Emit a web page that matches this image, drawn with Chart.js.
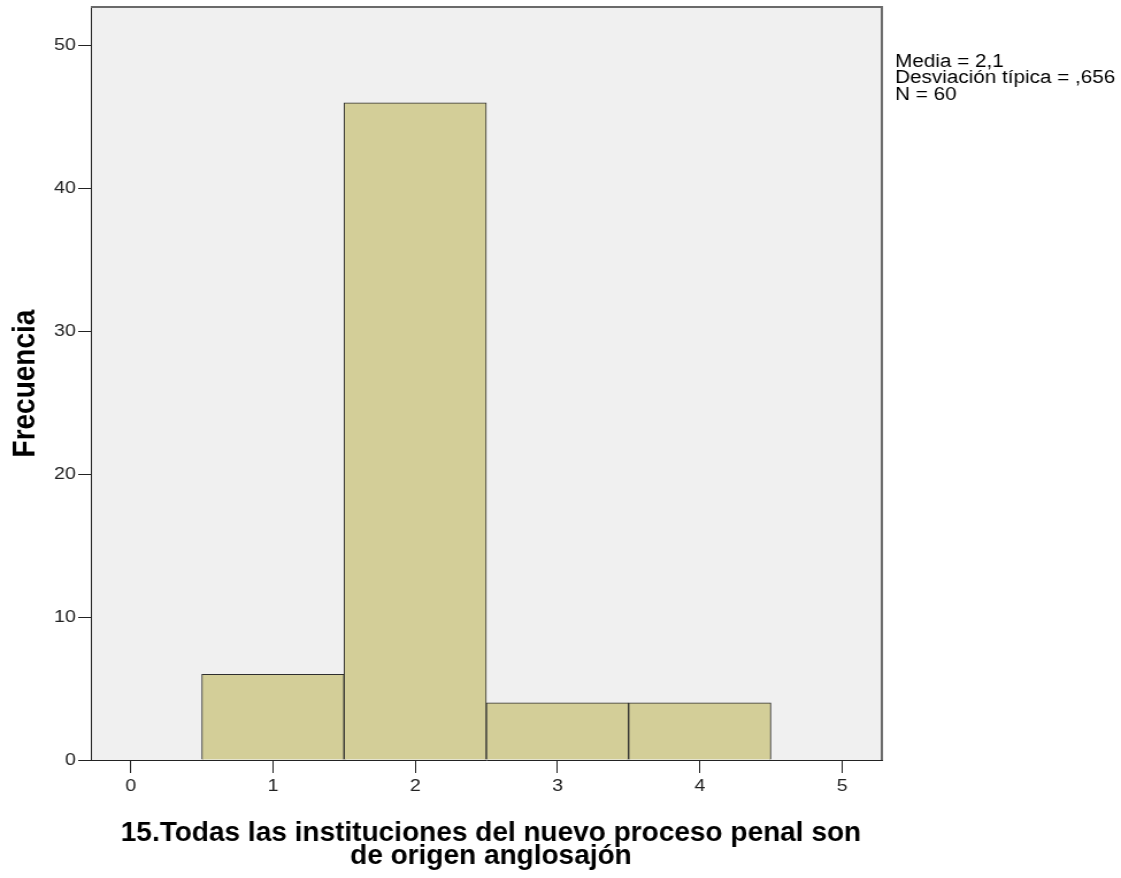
<!DOCTYPE html>
<html>
<head>
<meta charset="utf-8">
<script src="https://cdn.jsdelivr.net/npm/chart.js"></script>
<style>
    html, body { margin: 0; padding: 0; background: #fff; overflow: hidden; }
    /* the original output is stretched horizontally */
    #wrap { width: 975px; height: 878px; transform: scaleX(1.14974); transform-origin: 0 0; }
</style>
</head>
<body>
<div id="wrap"><canvas id="histChart" width="975" height="878"></canvas></div>
<script>
// ========================================
// HISTOGRAM - pregunta 15
// ========================================

const binCenters = [1, 2, 3, 4];
const frequencies = [6, 46, 4, 4];
const xTicks = [0, 1, 2, 3, 4, 5];
const yTicks = [0, 10, 20, 30, 40, 50];
const statLines = ["Media = 2,1", "Desviación típica = ,656", "N = 60"];
const xTitle = ["15.Todas las instituciones del nuevo proceso penal son", "de origen anglosajón"];
const yTitle = "Frecuencia";

const FONT = "'Liberation Sans', Arial, sans-serif";

// Plot background, frame, stats box and x title
const framePlugin = {
    id: "frame",
    beforeDraw(chart) {
        const { ctx, chartArea: a } = chart;
        ctx.save();
        ctx.fillStyle = "#f0f0f0";
        ctx.fillRect(a.left, a.top, a.right - a.left, a.bottom - a.top);
        ctx.restore();
    },
    afterDraw(chart) {
        const { ctx, chartArea: a } = chart;
        ctx.save();
        ctx.strokeStyle = "#6a6a6a";
        ctx.lineWidth = 2;
        ctx.beginPath();
        ctx.moveTo(a.left, a.top);
        ctx.lineTo(a.right, a.top);
        ctx.lineTo(a.right, a.bottom);
        ctx.stroke();

        // stats
        ctx.fillStyle = "#000";
        ctx.font = "18px " + FONT;
        ctx.textAlign = "left";
        ctx.textBaseline = "alphabetic";
        statLines.forEach((line, i) => {
            ctx.fillText(line, a.right + 11.5, 66.7 + i * 16.7);
        });

        // x axis title (condensed bold)
        ctx.font = "bold 28px " + FONT;
        ctx.textAlign = "center";
        const cx = (a.left + a.right) / 2 + 4;
        xTitle.forEach((line, i) => {
            ctx.save();
            ctx.translate(cx, 841 + i * 23);
            ctx.scale(0.87, 1);
            ctx.fillText(line, 0, 0);
            ctx.restore();
        });
        ctx.restore();
    }
};

window.addEventListener("load", () => {
    const ctx = document.getElementById("histChart").getContext("2d");

    new Chart(ctx, {
        type: "bar",
        data: {
            datasets: [{
                data: binCenters.map((x, i) => ({ x: x, y: frequencies[i] })),
                backgroundColor: "#d3ce98",
                borderColor: "#2e2e2e",
                borderWidth: 1,
                barPercentage: 1,
                categoryPercentage: 1
            }]
        },
        options: {
            responsive: false,
            devicePixelRatio: 1,
            animation: false,
            layout: { padding: { left: 0, right: 208, top: 6.5, bottom: 0 } },
            plugins: {
                legend: { display: false },
                tooltip: { enabled: false }
            },
            scales: {
                x: {
                    type: "linear",
                    min: -0.28,
                    max: 5.28,
                    offset: false,
                    grid: { offset: false, drawOnChartArea: false, drawTicks: true, tickLength: 13, color: "#222", lineWidth: 1 },
                    border: { display: true, color: "#222", width: 1 },
                    ticks: { padding: 3, color: "#222", autoSkip: false, maxRotation: 0, font: { family: FONT, size: 17 } },
                    afterBuildTicks: (s) => { s.ticks = xTicks.map(v => ({ value: v })); },
                    afterFit: (s) => { s.height = 118; }
                },
                y: {
                    min: 0,
                    max: 52.7,
                    grid: { drawOnChartArea: false, drawTicks: true, tickLength: 11, color: "#222", lineWidth: 1 },
                    border: { display: true, color: "#222", width: 1 },
                    // small lineHeight so the top label does not push the plot down
                    ticks: { padding: 2, color: "#222", autoSkip: false, font: { family: FONT, size: 17, lineHeight: 0.6 } },
                    afterBuildTicks: (s) => { s.ticks = yTicks.map(v => ({ value: v })); },
                    afterFit: (s) => { s.width = 79; },
                    title: {
                        display: true,
                        text: yTitle,
                        color: "#000",
                        font: { family: FONT, size: 28, weight: "bold" },
                        padding: { top: 5, bottom: 0 }
                    }
                }
            }
        },
        plugins: [framePlugin]
    });
});
</script>
</body>
</html>
